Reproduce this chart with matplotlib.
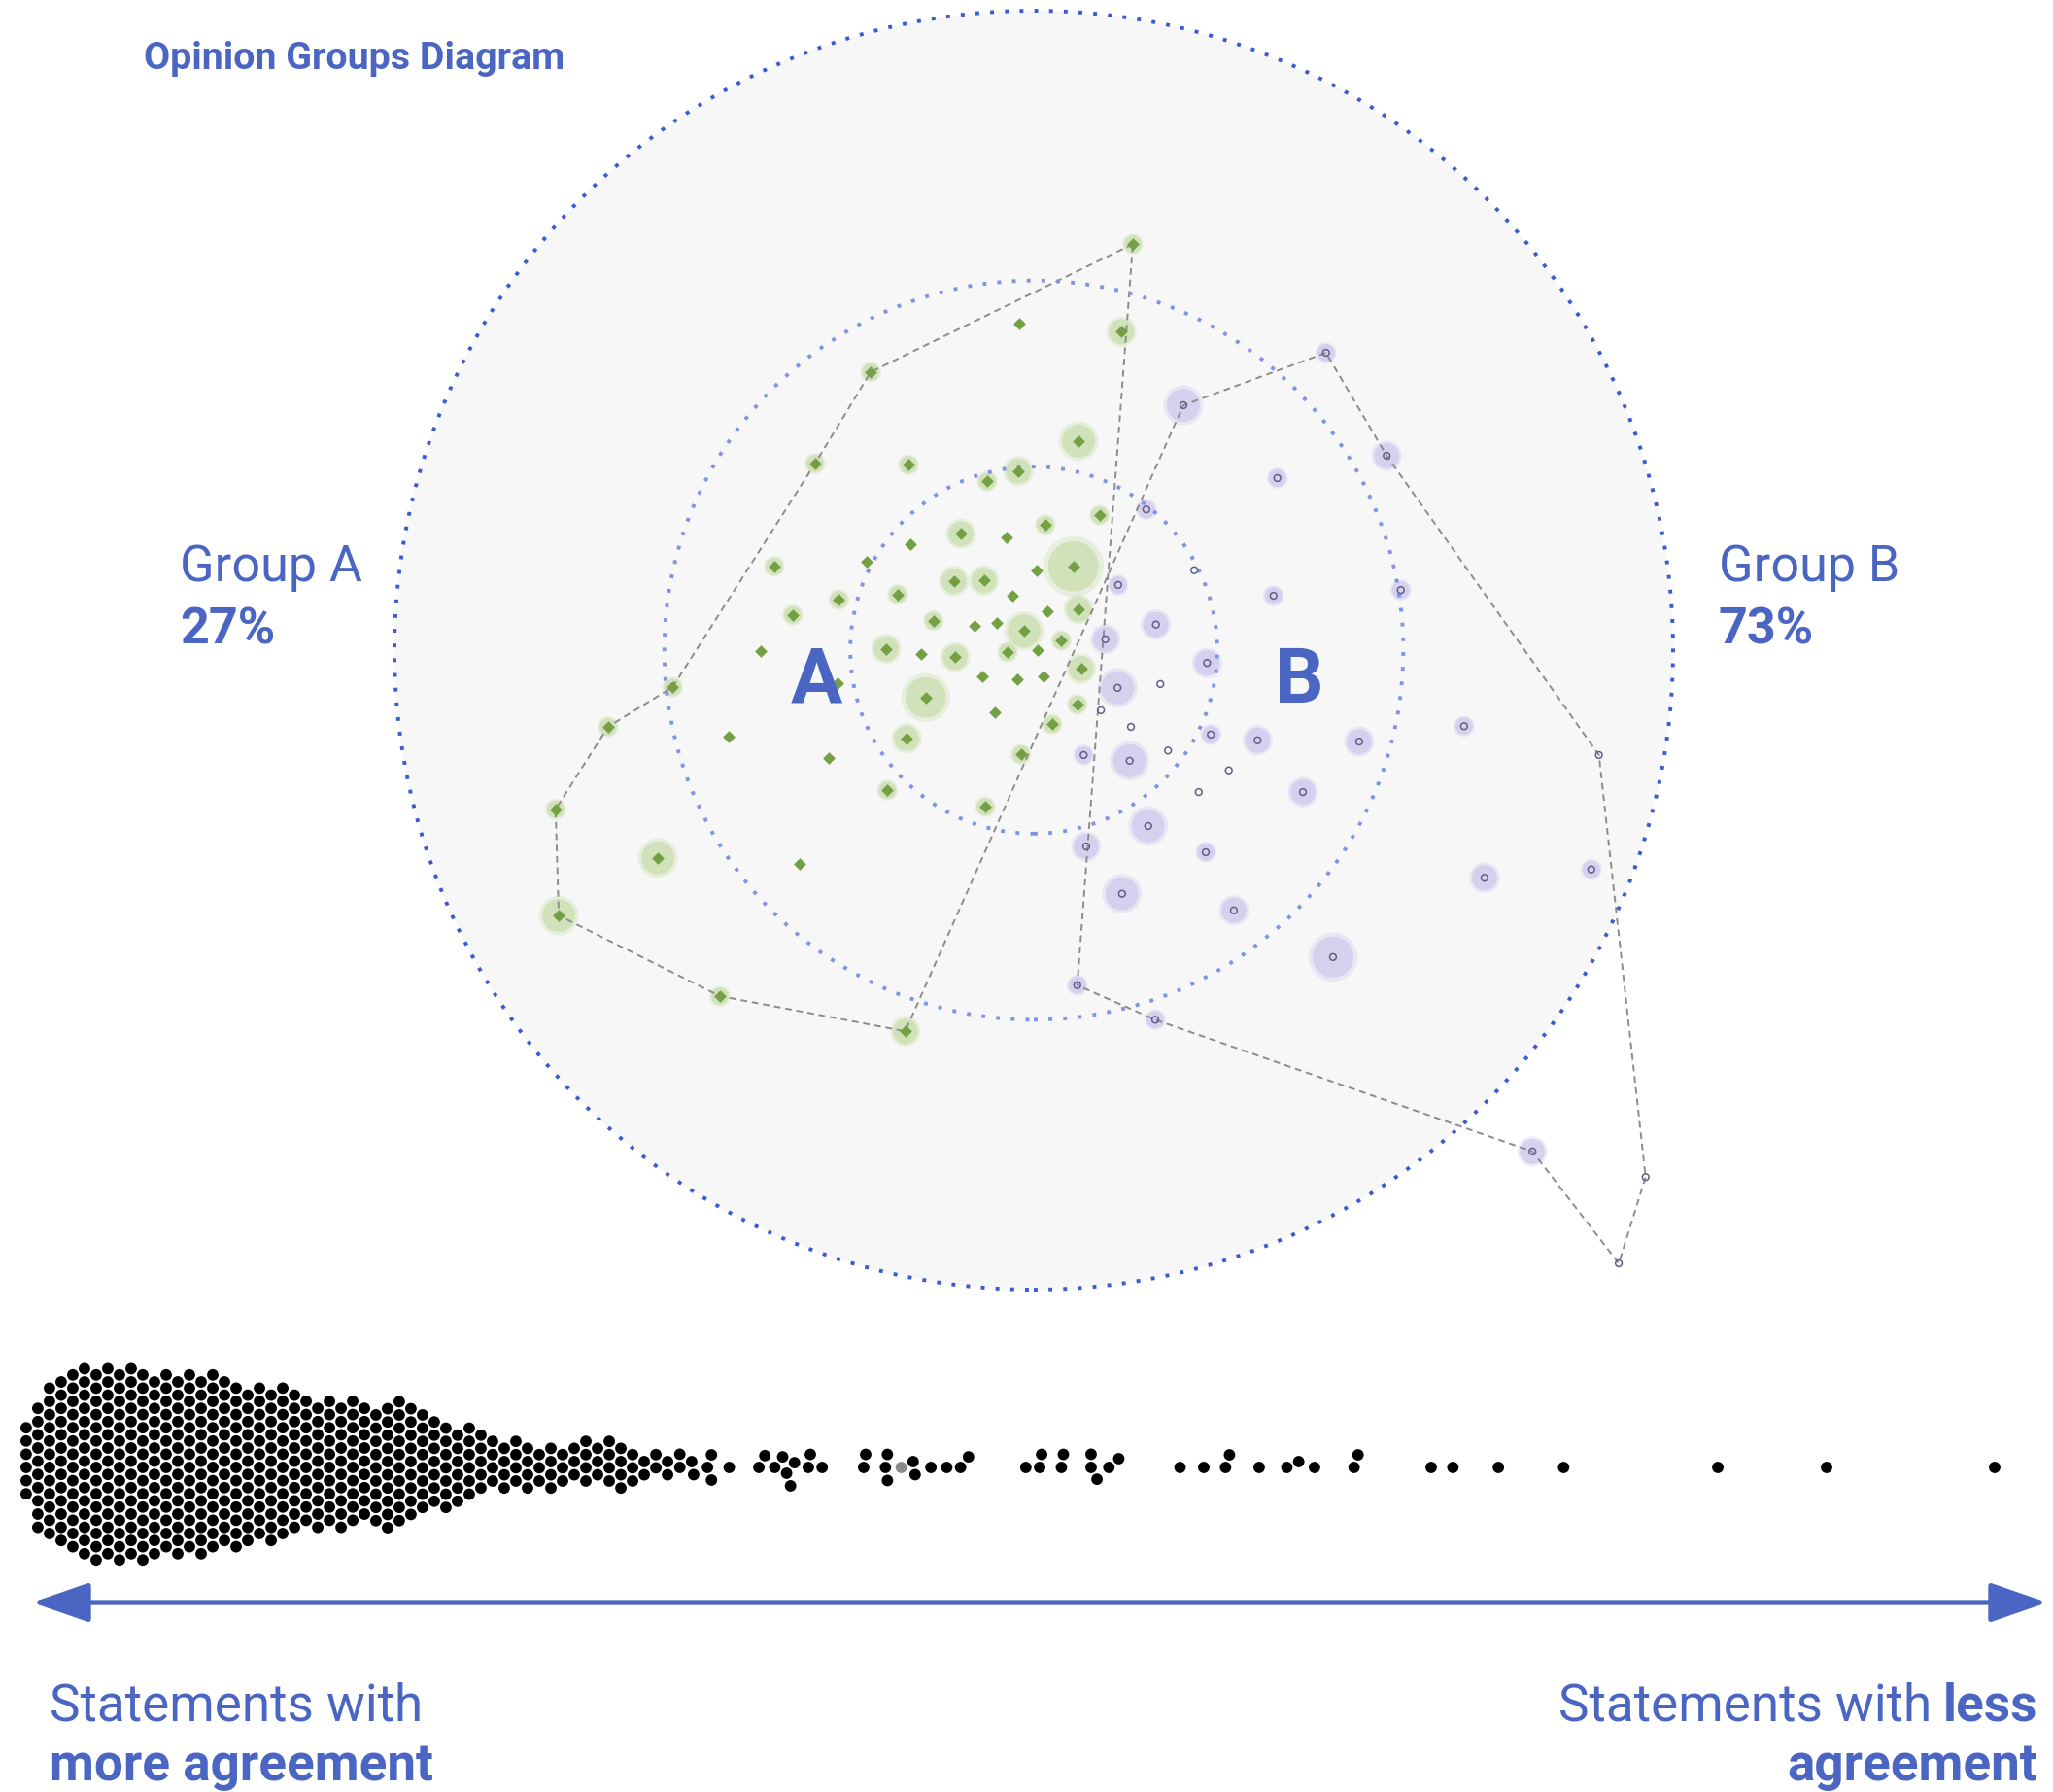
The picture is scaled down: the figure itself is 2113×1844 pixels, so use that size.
import numpy as np
import matplotlib
matplotlib.use("Agg")
import matplotlib.pyplot as plt
from matplotlib.patches import Circle

# ---- opinion map data (units: outer ring radius = 1) ----
group_a_x = [0.155, 0.137, -0.023, -0.255, -0.342, -0.196, 0.070, -0.024, -0.073, 0.103,
             -0.114, -0.043, 0.018, -0.193, -0.261, -0.406, 0.062, 0.005, -0.125, -0.078,
             -0.305, -0.377, -0.213, -0.033, 0.070, 0.021, -0.157, -0.093, -0.058, -0.015,
             0.043, -0.231, -0.176, -0.123, -0.041, 0.006, 0.074, -0.081, -0.026, 0.015,
             -0.307, -0.169, 0.068, -0.061, 0.029, -0.199, -0.321, -0.020, -0.229, -0.076,
             -0.427, -0.565, -0.666, -0.477, -0.748, -0.588, -0.366, -0.743, -0.491, -0.201]
group_a_y = [0.635, 0.498, 0.511, 0.435, 0.292, 0.290, 0.327, 0.280, 0.264, 0.211,
             0.182, 0.176, 0.196, 0.166, 0.138, 0.131, 0.131, 0.125, 0.108, 0.109,
             0.079, 0.055, 0.087, 0.085, 0.064, 0.061, 0.046, 0.038, 0.043, 0.030,
             0.015, 0.002, -0.006, -0.011, -0.003, 0.000, -0.029, -0.041, -0.046, -0.041,
             -0.052, -0.074, -0.085, -0.097, -0.116, -0.138, -0.169, -0.163, -0.219, -0.245,
             -0.002, -0.058, -0.120, -0.135, -0.249, -0.325, -0.334, -0.415, -0.541, -0.596]
group_a_weight = [1, 2, 0, 1, 1, 1, 3, 2, 1, 1,
                  2, 0, 1, 0, 0, 1, 5, 0, 2, 2,
                  1, 1, 1, 0, 2, 0, 1, 0, 0, 3,
                  1, 2, 0, 2, 1, 0, 2, 0, 0, 0,
                  0, 4, 1, 0, 1, 2, 0, 1, 1, 1,
                  0, 1, 1, 0, 1, 3, 0, 3, 1, 2]

group_b_x = [0.234, 0.457, 0.552, 0.381, 0.176, 0.251, 0.132, 0.375, 0.574, 0.191,
             0.112, 0.271, 0.131, 0.198, 0.105, 0.152, 0.277, 0.350, 0.509, 0.673,
             0.210, 0.078, 0.150, 0.884, 0.305, 0.258, 0.421, 0.179, 0.082, 0.269,
             0.705, 0.872, 0.138, 0.313, 0.468, 0.068, 0.190, 0.780, 0.957, 0.915]
group_b_y = [0.383, 0.465, 0.304, 0.269, 0.220, 0.125, 0.102, 0.085, 0.094, 0.040,
             0.017, -0.020, -0.059, -0.053, -0.094, -0.120, -0.132, -0.141, -0.143, -0.119,
             -0.157, -0.164, -0.173, -0.164, -0.188, -0.222, -0.222, -0.275, -0.307, -0.316,
             -0.356, -0.343, -0.381, -0.407, -0.480, -0.524, -0.578, -0.784, -0.824, -0.959]
group_b_weight = [3, 1, 2, 1, 1, 0, 1, 1, 1, 2,
                  2, 2, 3, 0, 0, 0, 1, 2, 2, 1,
                  0, 1, 3, 0, 0, 0, 2, 3, 2, 1,
                  2, 1, 3, 2, 4, 1, 1, 2, 0, 0]

hull_a = [0, 3, 4, 51, 52, 54, 57, 58, 59]
hull_b = [0, 1, 2, 23, 38, 39, 37, 36, 35]
ring_radii = [1.0, 0.578, 0.287]
group_names = ["Group A", "Group B"]
group_share = [27, 73]

# ---- statement agreement strip (score 0 = most agreement) ----
dense_scores = [0.34, 0.93, 1.52, 2.11, 2.70, 3.29, 3.88, 4.47, 5.06, 5.65, 6.24, 6.83,
                7.42, 8.01, 8.60, 9.19, 9.78, 10.37, 10.96, 11.55, 12.14, 12.73, 13.32,
                13.91, 14.50, 15.09, 15.68, 16.27, 16.86, 17.45, 18.03, 18.62, 19.21,
                19.80, 20.39, 20.98, 21.57, 22.16, 22.75, 23.34, 23.93, 24.52, 25.11,
                25.70, 26.29, 26.88, 27.47, 28.06, 28.65, 29.24, 29.83, 30.42, 31.01,
                31.60, 32.19, 32.78]
dense_counts = [6, 10, 12, 13, 14, 15, 15, 15, 15, 15, 15, 14,
                14, 14, 14, 14, 14, 13, 13, 12, 12, 12, 12,
                11, 10, 10, 10, 10, 10, 9, 9, 10, 10,
                9, 8, 7, 7, 6, 6, 5, 4, 4, 4,
                4, 3, 4, 3, 3, 4, 3, 4, 4, 3,
                2, 2, 2]
sparse_scores = [33.4, 33.4, 34.0, 34.1, 34.8, 35.0, 35.0, 35.9, 37.4, 37.7, 38.2, 38.6,
                 38.8, 39.0, 39.2, 39.9, 40.0, 40.6, 42.7, 42.8, 43.8, 43.9, 43.9, 44.6,
                 45.2, 45.3, 46.1, 46.9, 47.6, 48.0, 50.9, 51.6, 51.7, 52.7, 52.8, 54.2,
                 54.2, 54.5, 55.1, 55.6, 58.7, 59.9, 61.0, 61.2, 62.7, 64.1, 64.7, 65.5,
                 67.5, 67.7, 71.4, 72.5, 74.8, 78.1, 85.9, 91.4, 99.9]
highlight_score = 44.6

# ---- layout ----
W, H, DPI = 2113, 1844, 100
BLUE = "#4a66c2"
center_px, radius_px = (1064, 669), 658
halo_px = [0, 9, 13, 17, 21, 26]
plt.rcParams["font.family"] = ["Roboto", "DejaVu Sans"]

fig = plt.figure(figsize=(W / DPI, H / DPI), dpi=DPI)
fig.patch.set_facecolor("white")

# map axes: data units scaled so 1 unit = radius_px pixels
left_px, right_px = center_px[0] - 720, center_px[0] + 720
top_px, bot_px = 0, center_px[1] + 720
ax = fig.add_axes([left_px / W, 1 - bot_px / H, (right_px - left_px) / W, (bot_px - top_px) / H])
ax.set_xlim((left_px - center_px[0]) / radius_px, (right_px - center_px[0]) / radius_px)
ax.set_ylim((center_px[1] - bot_px) / radius_px, (center_px[1] - top_px) / radius_px)
ax.axis("off")

ax.add_patch(Circle((0, 0), ring_radii[0], facecolor="#f7f7f7", edgecolor="none", zorder=0))
for k, r in enumerate(ring_radii):
    col = "#3a5bd0" if k == 0 else "#7d96e4"
    ax.add_patch(Circle((0, 0), r, fill=False, edgecolor=col, lw=2.8,
                        linestyle=(0, (1, 2.9)), capstyle="butt", zorder=3))


def halo_sizes(weights, scale):
    return np.array([(2 * halo_px[w] * scale * 72 / DPI) ** 2 for w in weights])


def draw_group(xs, ys, ws, halo_col, zo):
    xs, ys = np.asarray(xs), np.asarray(ys)
    ws = np.asarray(ws)
    has = ws > 0
    ax.scatter(xs[has], ys[has], s=halo_sizes(ws[has], 1.2),
               color=halo_col, alpha=0.35, lw=0, zorder=zo)
    ax.scatter(xs[has], ys[has], s=halo_sizes(ws[has], 1.0),
               color=halo_col, alpha=0.75, lw=0, zorder=zo)


draw_group(group_a_x, group_a_y, group_a_weight, "#cadfb0", 1)
draw_group(group_b_x, group_b_y, group_b_weight, "#cfc9ec", 1)

# outline linking the two groups' boundary statements
ox = [group_a_x[i] for i in hull_a] + [group_b_x[i] for i in hull_b] + [group_a_x[hull_a[0]]]
oy = [group_a_y[i] for i in hull_a] + [group_b_y[i] for i in hull_b] + [group_a_y[hull_a[0]]]
ax.plot(ox, oy, color="#8c8c8c", lw=1.4, linestyle=(0, (3.5, 2.5)), zorder=2)

ax.scatter(group_a_x, group_a_y, marker="D", s=42, color="#73a043", lw=0, zorder=4)
ax.scatter(group_b_x, group_b_y, marker="o", s=24, facecolor="none",
           edgecolor="#625f86", lw=1.1, zorder=4)

# ---- swarm axes ----
px_per_score = 20.35
x0_px = 20
swarm_cy, swarm_half = 1510, 150
ax2 = fig.add_axes([0, 1 - (swarm_cy + swarm_half) / H, 1, 2 * swarm_half / H])
ax2.set_xlim(-x0_px / px_per_score, (W - x0_px) / px_per_score)
ax2.set_ylim(swarm_half, -swarm_half)
ax2.axis("off")

scores = np.concatenate([np.repeat(dense_scores, dense_counts), sparse_scores])


def swarm_offsets(xpx, d):
    order = np.argsort(xpx, kind="stable")
    ys = np.zeros(len(xpx))
    px, py = [], []
    for i in order:
        x = xpx[i]
        ax_ = np.array(px)
        ay_ = np.array(py)
        if len(ax_):
            near = np.abs(ax_ - x) < d
            nx, ny = ax_[near], ay_[near]
        else:
            nx = ny = np.array([])
        cands = [0.0]
        for xj, yj in zip(nx, ny):
            dy = np.sqrt(d * d - (x - xj) ** 2)
            cands += [yj + dy, yj - dy]
        cands.sort(key=lambda c: (round(abs(c), 4), c))
        for c in cands:
            if np.all((nx - x) ** 2 + (ny - c) ** 2 >= d * d - 1e-6):
                ys[i] = c
                break
        px.append(x)
        py.append(ys[i])
    return ys


offs = swarm_offsets(scores * px_per_score, 13.6)
cols = np.where(np.isclose(scores, highlight_score), "#8a8a8a", "black")
ax2.scatter(scores, offs, s=(11.8 * 72 / DPI) ** 2, c=cols, lw=0)

# ---- text & arrow overlay (pixel coords) ----
ov = fig.add_axes([0, 0, 1, 1], zorder=10)
ov.set_xlim(0, W)
ov.set_ylim(H, 0)
ov.axis("off")

ov.text(148, 71, "Opinion Groups Diagram", color=BLUE, fontsize=28.4, fontweight="bold", va="baseline")
ov.text(185, 598, group_names[0], color=BLUE, fontsize=37.5, va="baseline")
ov.text(185, 662, f"{group_share[0]}%", color=BLUE, fontsize=37.5, fontweight="bold", va="baseline")
ov.text(1769, 598, group_names[1], color=BLUE, fontsize=37.5, va="baseline")
ov.text(1769, 662, f"{group_share[1]}%", color=BLUE, fontsize=37.5, fontweight="bold", va="baseline")
ov.text(840, 723, "A", color=BLUE, fontsize=57, fontweight="bold", ha="center", va="baseline")
ov.text(1337, 723, "B", color=BLUE, fontsize=57, fontweight="bold", ha="center", va="baseline")

ov.annotate("", xy=(33, 1649), xytext=(2107, 1649),
            arrowprops=dict(arrowstyle="<|-|>,head_length=3.6,head_width=1.25",
                            color=BLUE, lw=3.8, shrinkA=0, shrinkB=0, mutation_scale=10))

ov.text(51, 1770, "Statements with", color=BLUE, fontsize=38.2, va="baseline")
ov.text(51, 1832, "more agreement", color=BLUE, fontsize=38.2, fontweight="bold", va="baseline")
t_less = ov.text(2097, 1770, "less", color=BLUE, fontsize=38.2, fontweight="bold",
                 ha="right", va="baseline")
ov.text(2097, 1832, "agreement", color=BLUE, fontsize=38.2, fontweight="bold",
        ha="right", va="baseline")
rend = fig.canvas.get_renderer()
wl = t_less.get_window_extent(rend).width
ov.text(2097 - wl - 11, 1770, "Statements with", color=BLUE, fontsize=38.2,
        ha="right", va="baseline")

fig.savefig("out.png", dpi=DPI)
